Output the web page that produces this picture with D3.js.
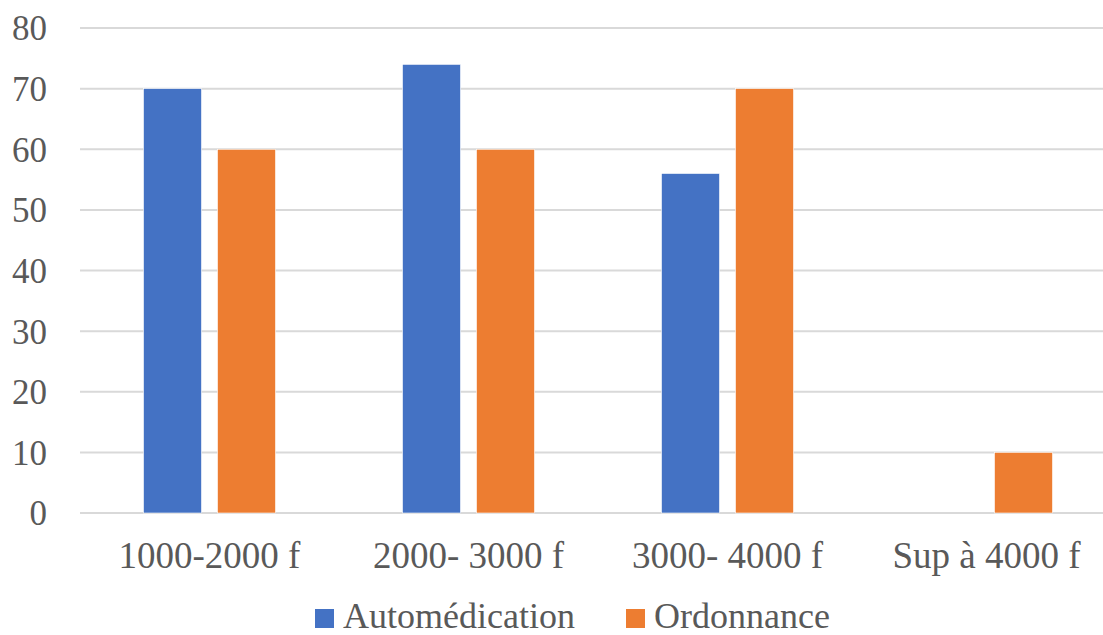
<!DOCTYPE html>
<html>
<head>
<meta charset="utf-8">
<script src="https://cdn.jsdelivr.net/npm/d3@7"></script>
<style>
  html, body { margin: 0; padding: 0; background: #fff; }
  svg { display: block; }
  text { font-family: "Liberation Serif", "Times New Roman", serif; fill: #595959; }
</style>
</head>
<body>
<svg id="chart" width="1103" height="635"></svg>
<script>
const categories = ["1000-2000 f", "2000- 3000 f", "3000- 4000 f", "Sup à 4000 f"];
const seriesNames = ["Automédication", "Ordonnance"];
const automedication = [70, 74, 56, 0];
const ordonnance = [60, 60, 70, 10];
const yTicks = [0, 10, 20, 30, 40, 50, 60, 70, 80];
const colors = ["#4472C4", "#ED7D31"];

const seriesValues = [automedication, ordonnance];
const data = categories.map((c, i) => ({
  cat: c,
  vals: seriesNames.map((s, j) => ({ key: s, value: seriesValues[j][i] }))
}));

const svg = d3.select("#chart");
const FONT = "'Liberation Serif', 'Times New Roman', serif";

const x = d3.scaleBand().domain(categories).range([80, 1116]).paddingInner(0).paddingOuter(0);
const y = d3.scaleLinear().domain([0, 80]).range([513, 28]);
const xInner = d3.scaleBand().domain(seriesNames).range([63.5, 259 - 63.5]).paddingInner(0.216);

// gridlines
svg.append("g").selectAll("line").data(yTicks).join("line")
  .attr("x1", 80).attr("x2", 1116)
  .attr("y1", d => y(d)).attr("y2", d => y(d))
  .attr("stroke", "#D9D9D9").attr("stroke-width", 2);

// y axis labels
const yAxis = d3.axisLeft(y).tickValues(yTicks).tickSize(0).tickPadding(0);
const gy = svg.append("g").attr("transform", "translate(47,0)").call(yAxis);
gy.select(".domain").remove();
gy.selectAll("text").attr("font-size", 35).attr("dy", "0.34em")
  .style("font-family", FONT).attr("fill", "#595959");

// bars
const groups = svg.append("g").selectAll("g").data(data).join("g")
  .attr("transform", d => `translate(${x(d.cat)},0)`);
groups.selectAll("rect").data(d => d.vals).join("rect")
  .attr("x", d => xInner(d.key))
  .attr("width", xInner.bandwidth())
  .attr("y", d => y(d.value))
  .attr("height", d => y(0) - y(d.value))
  .attr("fill", (d, i) => colors[i])
  .attr("stroke", d => d.value > 0 ? "#fff" : "none")
  .attr("stroke-width", 0.6);

// x axis labels
const xAxis = d3.axisBottom(x).tickSize(0).tickPadding(0);
const gx = svg.append("g").attr("transform", "translate(0,542)").call(xAxis);
gx.select(".domain").remove();
gx.selectAll("text").attr("font-size", 37).attr("dy", "0.7em")
  .style("font-family", FONT).attr("fill", "#595959");

// legend
const legendItems = [
  { name: seriesNames[0], color: colors[0], x: 315 },
  { name: seriesNames[1], color: colors[1], x: 626 }
];
const lg = svg.append("g").selectAll("g").data(legendItems).join("g")
  .attr("transform", d => `translate(${d.x},0)`);
lg.append("rect").attr("x", 0).attr("y", 609).attr("width", 19).attr("height", 19)
  .attr("fill", d => d.color);
lg.append("text").attr("x", 28).attr("y", 628).attr("font-size", 36)
  .style("font-family", FONT)
  .text(d => d.name);
</script>
</body>
</html>
